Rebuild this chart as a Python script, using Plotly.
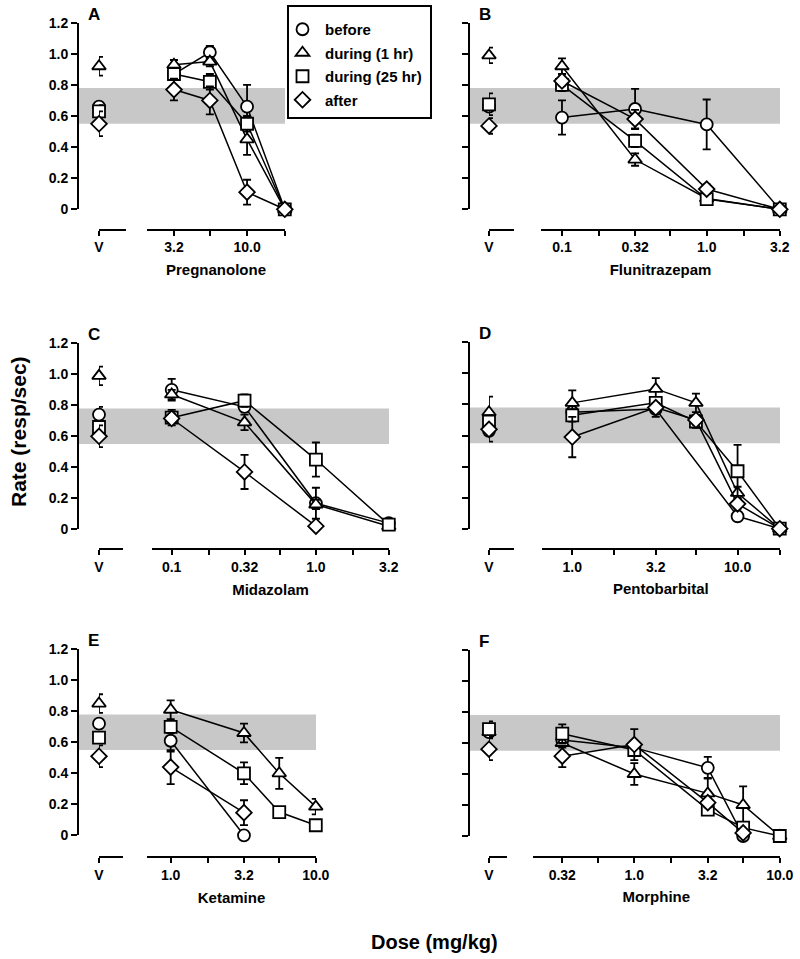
import math
import plotly.graph_objects as go

W, H = 800, 959

SERIES = ["before", "during (1 hr)", "during (25 hr)", "after"]
SYMBOLS = ["circle", "triangle-up", "square", "diamond"]

Y_TICKS = [0, 0.2, 0.4, 0.6, 0.8, 1.0, 1.2]
Y_TICKTEXT = ["0", "0.2", "0.4", "0.6", "0.8", "1.0", "1.2"]
BAND = [0.55, 0.78]

# ---------------- Panel A : Pregnanolone ----------------
A_drug = "Pregnanolone"
A_doses = [3.2, 5.6, 10, 18]
A_ticks = [3.2, 5.6, 10, 18]
A_ticktext = ["3.2", "", "10.0", ""]
A_vehicle = [0.66, 0.92, 0.63, 0.55]
A_vehicle_sem = [0.03, 0.06, 0.04, 0.08]
A_before = [0.87, 1.01, 0.66, 0.0]
A_before_sem = [0.03, 0.04, 0.14, 0.0]
A_during1 = [0.93, 0.95, 0.45, 0.0]
A_during1_sem = [0.03, 0.03, 0.10, 0.0]
A_during25 = [0.87, 0.82, 0.55, 0.0]
A_during25_sem = [0.03, 0.05, 0.05, 0.02]
A_after = [0.77, 0.70, 0.11, 0.0]
A_after_sem = [0.07, 0.09, 0.08, 0.0]

# ---------------- Panel B : Flunitrazepam ----------------
B_drug = "Flunitrazepam"
B_doses = [0.1, 0.32, 1.0, 3.2]
B_ticks = [0.1, 0.18, 0.32, 0.56, 1.0, 1.8, 3.2]
B_ticktext = ["0.1", "", "0.32", "", "1.0", "", "3.2"]
B_vehicle = [0.66, 0.99, 0.675, 0.536]
B_vehicle_sem = [0.03, 0.05, 0.07, 0.05]
B_before = [0.59, 0.645, 0.546, 0.0]
B_before_sem = [0.11, 0.13, 0.16, 0.0]
B_during1 = [0.92, 0.32, 0.07, 0.0]
B_during1_sem = [0.05, 0.04, 0.02, 0.0]
B_during25 = [0.80, 0.44, 0.066, 0.0]
B_during25_sem = [0.04, 0.04, 0.03, 0.0]
B_after = [0.825, 0.58, 0.13, 0.0]
B_after_sem = [0.03, 0.06, 0.03, 0.0]

# ---------------- Panel C : Midazolam ----------------
C_drug = "Midazolam"
C_doses = [0.1, 0.32, 1.0, 3.2]
C_ticks = [0.1, 0.18, 0.32, 0.56, 1.0, 1.8, 3.2]
C_ticktext = ["0.1", "", "0.32", "", "1.0", "", "3.2"]
C_vehicle = [0.74, 0.99, 0.66, 0.60]
C_vehicle_sem = [0.05, 0.06, 0.04, 0.07]
C_before = [0.90, 0.79, 0.168, 0.04]
C_before_sem = [0.07, 0.03, 0.10, 0.02]
C_during1 = [0.87, 0.69, 0.16, 0.02]
C_during1_sem = [0.03, 0.05, 0.03, 0.01]
C_during25 = [0.72, 0.83, 0.45, 0.03]
C_during25_sem = [0.05, 0.04, 0.11, 0.02]
C_after = [0.715, 0.37, 0.02, None]
C_after_sem = [0.03, 0.11, 0.0, None]

# ---------------- Panel D : Pentobarbital ----------------
D_drug = "Pentobarbital"
D_doses = [1.0, 3.2, 5.6, 10, 18]
D_ticks = [1.0, 1.8, 3.2, 5.6, 10, 18]
D_ticktext = ["1.0", "", "3.2", "", "10.0", ""]
D_vehicle = [0.63, 0.75, 0.69, 0.64]
D_vehicle_sem = [0.07, 0.10, 0.04, 0.03]
D_before = [0.75, 0.77, None, 0.08, 0.0]
D_before_sem = [0.04, 0.05, None, 0.02, 0.0]
D_during1 = [0.81, 0.90, 0.81, 0.23, 0.0]
D_during1_sem = [0.08, 0.07, 0.06, 0.04, 0.0]
D_during25 = [0.73, 0.81, 0.69, 0.37, 0.0]
D_during25_sem = [0.04, 0.03, 0.04, 0.17, 0.01]
D_after = [0.59, 0.78, 0.70, 0.16, 0.0]
D_after_sem = [0.13, 0.03, 0.03, 0.03, 0.0]

# ---------------- Panel E : Ketamine ----------------
E_drug = "Ketamine"
E_doses = [1.0, 3.2, 5.6, 10]
E_ticks = [1.0, 1.8, 3.2, 5.6, 10]
E_ticktext = ["1.0", "", "3.2", "", "10.0"]
E_vehicle = [0.72, 0.85, 0.63, 0.51]
E_vehicle_sem = [0.03, 0.06, 0.03, 0.07]
E_before = [0.61, 0.0, None, None]
E_before_sem = [0.07, 0.0, None, None]
E_during1 = [0.81, 0.66, 0.40, 0.185]
E_during1_sem = [0.06, 0.06, 0.10, 0.05]
E_during25 = [0.70, 0.40, 0.15, 0.065]
E_during25_sem = [0.04, 0.07, 0.02, 0.02]
E_after = [0.44, 0.146, None, None]
E_after_sem = [0.11, 0.08, None, None]

# ---------------- Panel F : Morphine ----------------
F_drug = "Morphine"
F_doses = [0.32, 1.0, 3.2, 5.6, 10]
F_ticks = [0.32, 0.56, 1.0, 1.8, 3.2, 5.6, 10]
F_ticktext = ["0.32", "", "1.0", "", "3.2", "", "10.0"]
F_vehicle = [0.67, 0.67, 0.69, 0.56]
F_vehicle_sem = [0.03, 0.03, 0.05, 0.07]
F_before = [0.62, 0.57, 0.44, 0.0, None]
F_before_sem = [0.03, 0.03, 0.07, 0.0, None]
F_during1 = [0.60, 0.40, 0.275, 0.20, 0.0]
F_during1_sem = [0.03, 0.07, 0.10, 0.12, 0.0]
F_during25 = [0.66, 0.555, 0.17, 0.054, 0.0]
F_during25_sem = [0.06, 0.03, 0.03, 0.02, 0.0]
F_after = [0.515, 0.59, 0.215, 0.02, None]
F_after_sem = [0.07, 0.10, 0.03, 0.01, None]

panels = [
    dict(letter="A", drug=A_drug, doses=A_doses, ticks=A_ticks, ticktext=A_ticktext,
         vehicle=A_vehicle, vehicle_sem=A_vehicle_sem,
         series=[A_before, A_during1, A_during25, A_after],
         sems=[A_before_sem, A_during1_sem, A_during25_sem, A_after_sem]),
    dict(letter="B", drug=B_drug, doses=B_doses, ticks=B_ticks, ticktext=B_ticktext,
         vehicle=B_vehicle, vehicle_sem=B_vehicle_sem,
         series=[B_before, B_during1, B_during25, B_after],
         sems=[B_before_sem, B_during1_sem, B_during25_sem, B_after_sem]),
    dict(letter="C", drug=C_drug, doses=C_doses, ticks=C_ticks, ticktext=C_ticktext,
         vehicle=C_vehicle, vehicle_sem=C_vehicle_sem,
         series=[C_before, C_during1, C_during25, C_after],
         sems=[C_before_sem, C_during1_sem, C_during25_sem, C_after_sem]),
    dict(letter="D", drug=D_drug, doses=D_doses, ticks=D_ticks, ticktext=D_ticktext,
         vehicle=D_vehicle, vehicle_sem=D_vehicle_sem,
         series=[D_before, D_during1, D_during25, D_after],
         sems=[D_before_sem, D_during1_sem, D_during25_sem, D_after_sem]),
    dict(letter="E", drug=E_drug, doses=E_doses, ticks=E_ticks, ticktext=E_ticktext,
         vehicle=E_vehicle, vehicle_sem=E_vehicle_sem,
         series=[E_before, E_during1, E_during25, E_after],
         sems=[E_before_sem, E_during1_sem, E_during25_sem, E_after_sem]),
    dict(letter="F", drug=F_drug, doses=F_doses, ticks=F_ticks, ticktext=F_ticktext,
         vehicle=F_vehicle, vehicle_sem=F_vehicle_sem,
         series=[F_before, F_during1, F_during25, F_after],
         sems=[F_before_sem, F_during1_sem, F_during25_sem, F_after_sem]),
]

# layout geometry in pixels: y-axis x, 1.2-level y, 0-level y, x-axis line y,
# vehicle axis span, dose axis span; plus pixel of first labelled tick
geom = [
    dict(yx=78, ytop=22.7, ybot=209.3, xline=229.5, v=(99, 126), d=(147, 285), t0=174),
    dict(yx=469, ytop=22.7, ybot=209.3, xline=229.5, v=(489, 514), d=(541, 780), t0=562),
    dict(yx=78, ytop=343.3, ybot=529.3, xline=549.3, v=(99, 123), d=(152, 389), t0=171.7),
    dict(yx=469, ytop=342.3, ybot=528.7, xline=548.8, v=(489, 514), d=(541.7, 780), t0=572.3),
    dict(yx=78, ytop=649.3, ybot=835.3, xline=857.3, v=(99, 123), d=(147, 316), t0=170.7),
    dict(yx=469, ytop=650.0, ybot=836.0, xline=857.0, v=(489, 507.3), d=(532.7, 780), t0=562.3),
]

FONT = "Liberation Sans, Arial, Helvetica, sans-serif"
BOLD = dict(family=FONT, color="black", weight="bold")


def px(xp):
    return xp / W


def py(yp):
    return 1 - yp / H


def dose_range(ticks, g):
    # log range so that the first tick sits at t0 and the last tick at the axis end
    lo, hi = math.log10(ticks[0]), math.log10(ticks[-1])
    scale = (hi - lo) / (g["d"][1] - g["t0"])
    r0 = lo - (g["t0"] - g["d"][0]) * scale
    return [r0, hi + 0.0015]


fig = go.Figure()
layout = dict(shapes=[], annotations=[])

for i, (p, g) in enumerate(zip(panels, geom)):
    yid = i + 1
    xv = 2 * i + 1
    xd = 2 * i + 2
    ysuf = "" if yid == 1 else str(yid)
    xvsuf = "" if xv == 1 else str(xv)
    xdsuf = str(xd)

    layout["yaxis" + ysuf] = dict(
        domain=[py(g["ybot"]), py(g["ytop"])], range=[0, 1.2], anchor="free",
        position=px(g["yx"]), showline=True, linecolor="black", linewidth=2,
        ticks="outside", ticklen=6, tickwidth=2, tickcolor="black",
        tickvals=Y_TICKS, ticktext=Y_TICKTEXT, showticklabels=(i % 2 == 0),
        tickfont=dict(BOLD, size=14), showgrid=False, zeroline=False,
        automargin=False,
    )
    layout["xaxis" + xvsuf] = dict(
        domain=[px(g["v"][0]), px(g["v"][1])], range=[0, 1], anchor="free",
        position=py(g["xline"]), showline=True, linecolor="black", linewidth=2,
        ticks="outside", ticklen=5, tickwidth=2, tickcolor="black",
        tickvals=[0], ticktext=["V"], tickfont=dict(BOLD, size=14),
        showgrid=False, zeroline=False, automargin=False,
    )
    layout["xaxis" + xdsuf] = dict(
        domain=[px(g["d"][0]), px(g["d"][1])], type="log",
        range=dose_range(p["ticks"], g),
        anchor="free", position=py(g["xline"]), showline=True, linecolor="black",
        linewidth=2, ticks="outside", ticklen=5, tickwidth=2, tickcolor="black",
        tickvals=p["ticks"], ticktext=p["ticktext"], tickfont=dict(BOLD, size=14),
        showgrid=False, zeroline=False, automargin=False,
        title=dict(text=p["drug"], font=dict(BOLD, size=15), standoff=9),
    )

    # grey reference band
    layout["shapes"].append(dict(
        type="rect", layer="below", xref="paper", yref="y" + ysuf,
        x0=px(g["yx"]), x1=px(g["d"][1]), y0=BAND[0], y1=BAND[1],
        fillcolor="#c8c8c8", line=dict(width=0),
    ))
    # panel letter
    layout["annotations"].append(dict(
        text=p["letter"], xref="paper", yref="paper",
        x=px(g["yx"] + 9), y=py(g["ytop"] - 8.5), xanchor="left", yanchor="middle",
        showarrow=False, font=dict(BOLD, size=17), borderpad=0,
    ))

    for k in range(4):
        # vehicle point
        fig.add_trace(go.Scatter(
            x=[0], y=[p["vehicle"][k]], mode="markers", name=SERIES[k],
            legendgroup=SERIES[k], showlegend=(i == 0),
            xaxis="x" + xvsuf, yaxis="y" + ysuf, cliponaxis=False,
            marker=dict(symbol=SYMBOLS[k], size=12, color="white",
                        line=dict(color="black", width=1.8)),
            error_y=dict(type="data", array=[p["vehicle_sem"][k]], color="black",
                         thickness=1.8, width=4),
        ))
        # dose-response curve
        fig.add_trace(go.Scatter(
            x=p["doses"], y=p["series"][k], mode="lines+markers", name=SERIES[k],
            legendgroup=SERIES[k], showlegend=False, connectgaps=True,
            xaxis="x" + xdsuf, yaxis="y" + ysuf, cliponaxis=False,
            line=dict(color="black", width=1.5),
            marker=dict(symbol=SYMBOLS[k], size=12, color="white",
                        line=dict(color="black", width=1.8)),
            error_y=dict(type="data", array=p["sems"][k], color="black",
                         thickness=1.8, width=4),
        ))

# legend frame
layout["shapes"].append(dict(
    type="rect", layer="below", xref="paper", yref="paper",
    x0=px(288), x1=px(431), y0=py(118), y1=py(6),
    fillcolor="white", line=dict(color="black", width=2),
))

layout["annotations"].append(dict(
    text="Rate (resp/sec)", xref="paper", yref="paper", x=px(18), y=py(432),
    xanchor="center", yanchor="middle",
    textangle=-90, showarrow=False, font=dict(BOLD, size=21),
))
layout["annotations"].append(dict(
    text="Dose (mg/kg)", xref="paper", yref="paper", x=px(434), y=py(942),
    xanchor="center", yanchor="middle",
    showarrow=False, font=dict(BOLD, size=20),
))

fig.update_layout(
    template="none",
    width=W, height=H, margin=dict(l=0, r=0, t=0, b=0, pad=0, autoexpand=False),
    paper_bgcolor="white", plot_bgcolor="rgba(0,0,0,0)",
    showlegend=True, hovermode=False,
    legend=dict(x=px(280), y=py(13), xanchor="left", yanchor="top",
                bgcolor="rgba(0,0,0,0)", borderwidth=0, itemwidth=35,
                font=dict(BOLD, size=15), tracegroupgap=1, traceorder="grouped"),
    **layout,
)

fig.write_html(
    "out.html",
    config={"displayModeBar": False},
    post_script="document.body.style.margin='0px';document.body.style.overflow='hidden';",
)
